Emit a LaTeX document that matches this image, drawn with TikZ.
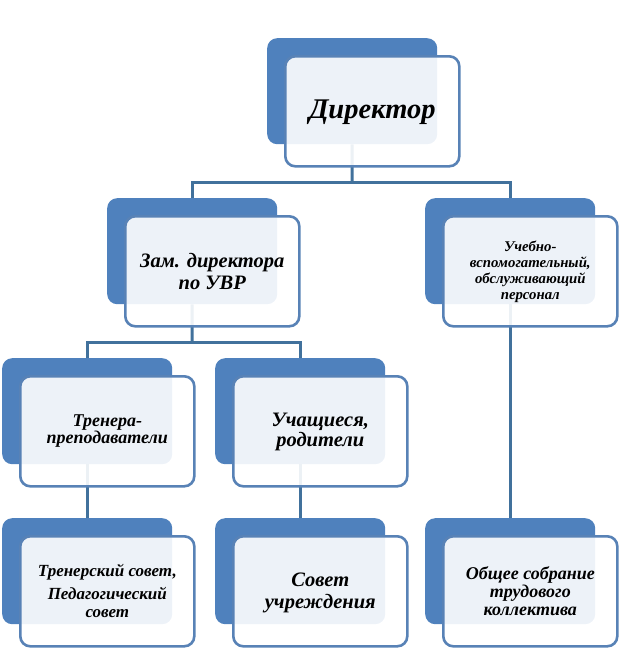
\documentclass[tikz,border=0pt]{standalone}
\usepackage{fontspec}
\setmainfont{Liberation Serif}
\usetikzlibrary{backgrounds}
\definecolor{boxblue}{RGB}{79,129,189}
\definecolor{edgeblue}{RGB}{88,130,182}
\definecolor{lineblue}{RGB}{65,113,156}
\begin{document}
\begin{tikzpicture}[x=1pt,y=-1pt,
  backbox/.style={draw=none,fill=boxblue,rounded corners=10pt,minimum width=170pt,minimum height=106pt,anchor=north west,inner sep=0pt},
  frontbox/.style={draw=edgeblue,line width=2.6pt,fill=white,fill opacity=0.9,rounded corners=10pt,minimum width=174pt,minimum height=110pt,anchor=north west,inner sep=0pt},
  txt/.style={align=center,text=black,inner sep=0pt},
  conn/.style={draw=lineblue,line width=3pt}]
\useasboundingbox (0,0) rectangle (621,664);
% back boxes
\node[backbox] (dB) at (267,38) {};
\node[backbox] (zB) at (107,198) {};
\node[backbox] (uB) at (425,198) {};
\node[backbox] (tB) at (2,358) {};
\node[backbox] (pB) at (215,358) {};
\node[backbox] (tsB) at (2,518) {};
\node[backbox] (sB) at (215,518) {};
\node[backbox] (oB) at (425,518) {};
% front boxes
\node[frontbox] (dF) at (284,55) {};
\node[frontbox] (zF) at (124,215) {};
\node[frontbox] (uF) at (442,215) {};
\node[frontbox] (tF) at (19,375) {};
\node[frontbox] (pF) at (232,375) {};
\node[frontbox] (tsF) at (19,535) {};
\node[frontbox] (sF) at (232,535) {};
\node[frontbox] (oF) at (442,535) {};
% texts
\node[txt,font=\fontsize{28.5}{32}\selectfont\bfseries\itshape,yshift=-1pt] (dT) at (dF.center) {Директор};
\node[txt,font=\fontsize{20.5}{22}\selectfont\bfseries\itshape] (zT) at (zF.center) {Зам. директора\\по УВР};
\node[txt,font=\fontsize{14.8}{16}\selectfont\bfseries\itshape] (uT) at (uF.center) {Учебно-\\вспомогательный,\\обслуживающий\\персонал};
\node[txt,font=\fontsize{18}{17}\selectfont\bfseries\itshape] (tT) at (tF.center) {Тренера-\\преподаватели};
\node[txt,font=\fontsize{20.5}{20}\selectfont\bfseries\itshape,yshift=-1pt] (pT) at (pF.center) {Учащиеся,\\родители};
\node[txt,font=\fontsize{17}{18}\selectfont\bfseries\itshape] (tsT) at (tsF.center) {Тренерский совет,\\[5pt]Педагогический\\совет};
\node[txt,font=\fontsize{20.5}{22}\selectfont\bfseries\itshape,yshift=-2pt] (sT) at (sF.center) {Совет\\учреждения};
\node[txt,font=\fontsize{18}{18}\selectfont\bfseries\itshape] (oT) at (oF.center) {Общее собрание\\трудового\\коллектива};
% connectors
\coordinate (j1) at (352,182);
\coordinate (j2) at (192,342);
\begin{scope}[on background layer]
\draw[conn] (dB.south) -- (j1);
\draw[conn] (zB.north) |- (j1) -| (uB.north);
\draw[conn] (zB.south) -- (j2);
\draw[conn] (tB.north) |- (j2) -| (pB.north);
\draw[conn] (tB.south) -- (tsB.north);
\draw[conn] (pB.south) -- (sB.north);
\draw[conn] (uB.south) -- (oB.north);
\end{scope}
\end{tikzpicture}
\end{document}
